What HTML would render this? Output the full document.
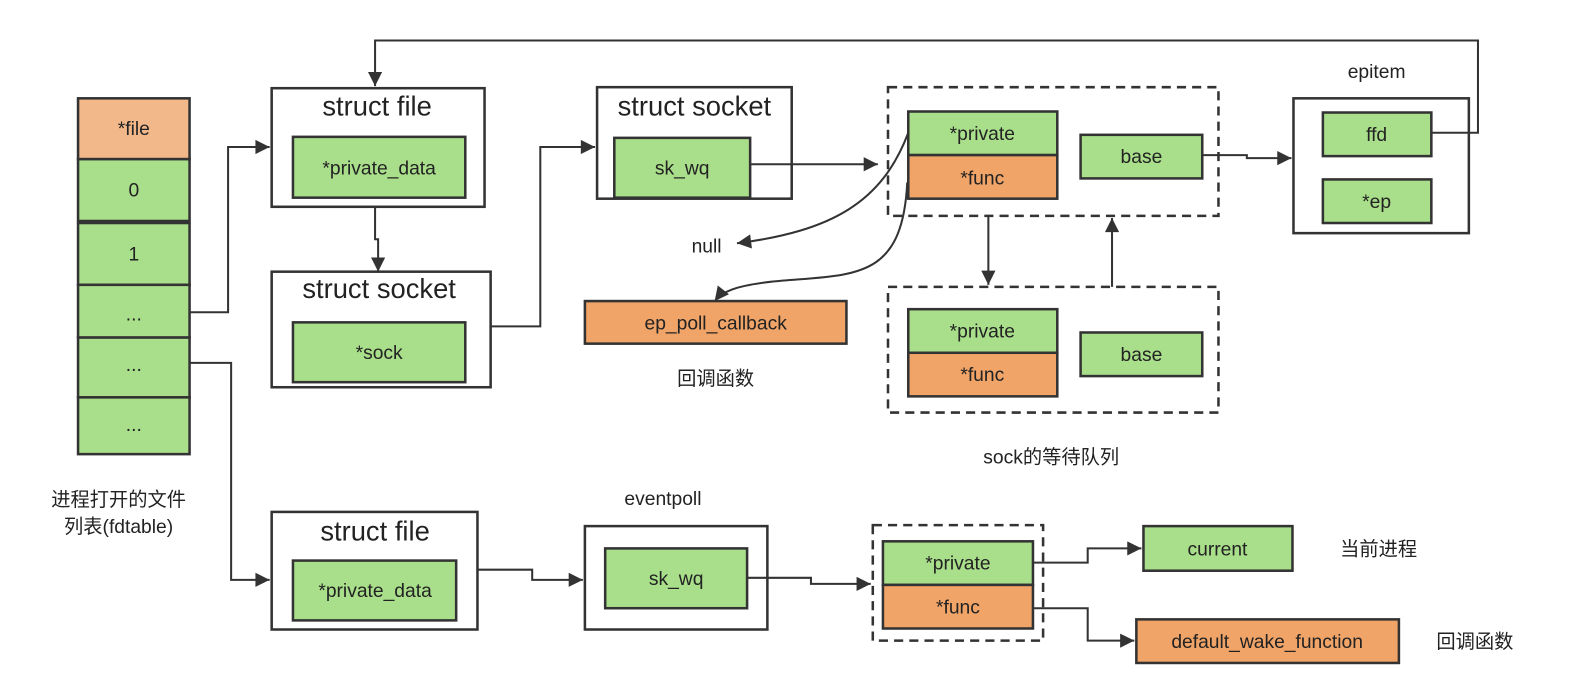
<!DOCTYPE html>
<html><head><meta charset="utf-8"><style>
html,body{margin:0;padding:0;background:#fff;}
svg text{font-family:"Liberation Sans","Noto Sans CJK SC",sans-serif;fill:#222;}
</style></head><body>
<svg width="1590" height="680" viewBox="0 0 1590 680" xmlns="http://www.w3.org/2000/svg">
<defs>
<marker id="b" viewBox="0 0 10 10" markerWidth="18" markerHeight="14" refX="10" refY="5" orient="auto" markerUnits="userSpaceOnUse"><path d="M0,0 L10,5 L0,10 Z" fill="#333"/></marker></defs>
<g transform="scale(1.0137)">
<g stroke="#333" stroke-width="2.5">
<rect x="77" y="97" width="110" height="60" fill="#f2b88a"/>
<rect x="77" y="157" width="110" height="61" fill="#a9df8b"/>
<rect x="77" y="220" width="110" height="61" fill="#a9df8b"/>
<rect x="77" y="281" width="110" height="52" fill="#a9df8b"/>
<rect x="77" y="333" width="110" height="59" fill="#a9df8b"/>
<rect x="77" y="392" width="110" height="56" fill="#a9df8b"/>
<rect x="268" y="87" width="210" height="117" fill="#fff"/>
<rect x="289" y="135" width="170" height="60" fill="#a9df8b"/>
<rect x="268" y="268" width="216" height="114" fill="#fff"/>
<rect x="289" y="318" width="170" height="59" fill="#a9df8b"/>
<rect x="589" y="86" width="192" height="110" fill="#fff"/>
<rect x="606" y="136" width="134" height="59" fill="#a9df8b"/>
<rect x="876" y="86" width="326" height="127" fill="none" stroke-dasharray="9,6"/>
<rect x="896" y="110" width="147" height="43" fill="#a9df8b"/>
<rect x="896" y="153" width="147" height="43" fill="#f0a468"/>
<rect x="1066" y="133" width="120" height="43" fill="#a9df8b"/>
<rect x="876" y="283" width="326" height="124" fill="none" stroke-dasharray="9,6"/>
<rect x="896" y="305" width="147" height="43" fill="#a9df8b"/>
<rect x="896" y="348" width="147" height="43" fill="#f0a468"/>
<rect x="1066" y="328" width="120" height="43" fill="#a9df8b"/>
<rect x="1276" y="97" width="173" height="133" fill="#fff"/>
<rect x="1305" y="111" width="107" height="43" fill="#a9df8b"/>
<rect x="1305" y="177" width="107" height="43" fill="#a9df8b"/>
<rect x="577" y="297" width="258" height="42" fill="#f0a468"/>
<rect x="268" y="505" width="203" height="116" fill="#fff"/>
<rect x="289" y="553" width="161" height="59" fill="#a9df8b"/>
<rect x="577" y="519" width="180" height="102" fill="#fff"/>
<rect x="597" y="541" width="140" height="59" fill="#a9df8b"/>
<rect x="861" y="518" width="168" height="114" fill="none" stroke-dasharray="9,6"/>
<rect x="871" y="534" width="148" height="43" fill="#a9df8b"/>
<rect x="871" y="577" width="148" height="43" fill="#f0a468"/>
<rect x="1128" y="519" width="147" height="44" fill="#a9df8b"/>
<rect x="1121" y="611" width="259" height="43" fill="#f0a468"/>
</g>
<g stroke="#333" stroke-width="2" fill="none" marker-end="url(#b)">
<path d="M187,308 H225 V145 H266"/>
<path d="M187,358 H228 V572 H266"/>
<path d="M370,204 V236 H373 V268"/>
<path d="M484,322 H533 V145 H587"/>
<path d="M740,162 H866"/>
<path d="M1186,153 H1230 V156 H1274"/>
<path d="M1412,131 H1458 V40 H370 V85"/>
<path d="M975,213 V281"/>
<path d="M1097,283 V215"/>
<path d="M896,131 C870,200 820,228 727,240"/>
<path d="M895,180 C890,280 840,270 760,278 C725,282 712,288 705,297"/>
<path d="M471,562 H525 V572 H575"/>
<path d="M737,570 H800 V576 H859"/>
<path d="M1019,555 H1073 V541 H1126"/>
<path d="M1019,600 H1073 V632 H1119"/>
</g>
<g font-size="19" text-anchor="middle">
<text x="132" y="133">*file</text>
<text x="132" y="194">0</text>
<text x="132" y="257">1</text>
<text x="132" y="316">...</text>
<text x="132" y="366">...</text>
<text x="132" y="425">...</text>
<text x="372" y="114" font-size="27">struct file</text>
<text x="374" y="172">*private_data</text>
<text x="374" y="294" font-size="27">struct socket</text>
<text x="374" y="354">*sock</text>
<text x="685" y="114" font-size="27">struct socket</text>
<text x="673" y="172">sk_wq</text>
<text x="969" y="138">*private</text>
<text x="969" y="182">*func</text>
<text x="1126" y="161">base</text>
<text x="969" y="333">*private</text>
<text x="969" y="376">*func</text>
<text x="1126" y="356">base</text>
<text x="1358" y="139">ffd</text>
<text x="1358" y="205">*ep</text>
<text x="1358" y="77">epitem</text>
<text x="706" y="325">ep_poll_callback</text>
<text x="706" y="380">回调函数</text>
<text x="697" y="249">null</text>
<text x="1037" y="457">sock的等待队列</text>
<text x="117" y="499">进程打开的文件</text>
<text x="117" y="526">列表(fdtable)</text>
<text x="370" y="533" font-size="27">struct file</text>
<text x="370" y="589">*private_data</text>
<text x="654" y="498">eventpoll</text>
<text x="667" y="577">sk_wq</text>
<text x="945" y="562">*private</text>
<text x="945" y="605">*func</text>
<text x="1201" y="548">current</text>
<text x="1360" y="548">当前进程</text>
<text x="1250" y="639">default_wake_function</text>
<text x="1455" y="639">回调函数</text>
</g>
</g>
</svg>
</body></html>
